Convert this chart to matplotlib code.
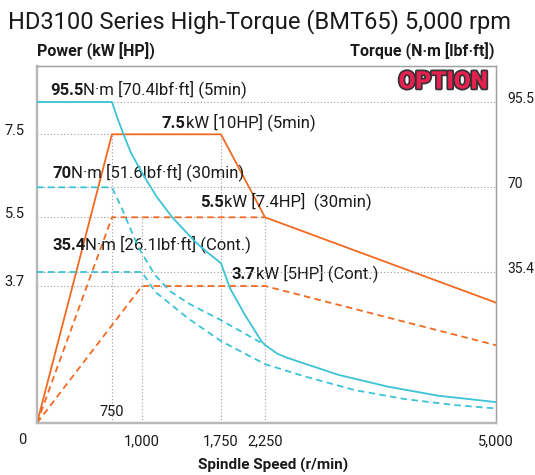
import numpy as np
import matplotlib
matplotlib.use('Agg')
import matplotlib.pyplot as plt
import matplotlib.patheffects as pe
from matplotlib.transforms import ScaledTranslation

plt.rcParams['font.family'] = ['Roboto', 'DejaVu Sans']

# Datos ------------------------------------------------------------
rpm_ticks = [1000, 1750, 2250, 5000]
rpm_labels = ['1,000', '1,750', '2,250', '5,000']
power_ticks = [3.7, 5.5, 7.5]
torque_ticks = [35.4, 70, 95.5]

# Potencia (kW)
p5_rpm = [0, 750, 1750, 2250, 5000]
p5_kw = [0, 7.5, 7.5, 5.5, 3.25]
p30_rpm = [0, 750, 2250]
p30_kw = [0, 5.5, 5.5]
pc_rpm = [0, 1000, 2250, 5000]
pc_kw = [0, 3.7, 3.7, 2.1]

# Torque (N·m)
t5_rpm = [0, 750, 792, 842, 908, 1012, 1142, 1282, 1503, 1627, 1750, 1852, 2023, 2212,
          2250, 2400, 2527, 3123, 3718, 4313, 5000]
t5_nm = [95.5, 95.5, 91.0, 86.2, 80.3, 73.7, 66.0, 58.0, 47.8, 43.2, 39.0, 31.6, 25.3,
         19.1, 18.3, 16.2, 15.2, 11.3, 8.5, 6.4, 4.9]
t30_rpm = [0, 750, 831, 967, 1123, 1266, 1437, 1750, 2250]
t30_nm = [70, 70, 61.5, 45.7, 34.7, 30.9, 28.1, 24.1, 18.3]
tc_rpm = [0, 1000, 1123, 1439, 1750, 2250, 2726, 3321, 3917, 4512, 5000]
tc_nm = [35.4, 35.4, 30.8, 24.5, 19.2, 13.8, 10.9, 7.7, 5.6, 4.2, 3.4]

# Escalas no uniformes del dibujo original (valor -> posicion)
x_knots = ([0, 750, 1000, 1750, 2250, 5000], [0, 75, 105, 184, 228, 459])
p_knots = ([0, 3.7, 5.5, 7.5], [0, 137, 205.7, 288.7])
t_knots = ([0, 35.4, 70, 95.5], [0, 151, 235.7, 321])

orange = '#F26A21'
cyan = '#3CC3D6'
grid_c = '#9a9a9a'
txt_c = '#1a1a1a'


def piecewise(xs, ys):
    xs = np.asarray(xs, float)
    ys = np.asarray(ys, float)

    def f(v):
        v = np.asarray(v, float)
        out = np.interp(v, xs, ys)
        lo = ys[0] + (v - xs[0]) * (ys[1] - ys[0]) / (xs[1] - xs[0])
        hi = ys[-1] + (v - xs[-1]) * (ys[-1] - ys[-2]) / (xs[-1] - xs[-2])
        out = np.where(v < xs[0], lo, out)
        out = np.where(v > xs[-1], hi, out)
        return out
    return f


def scale_funcs(knots):
    return piecewise(knots[0], knots[1]), piecewise(knots[1], knots[0])


fig = plt.figure(figsize=(5.35, 4.75), dpi=100)
ax = fig.add_axes([37 / 535, 52 / 475, 459 / 535, 357 / 475])
ax2 = ax.twinx()

ax.set_xscale('function', functions=scale_funcs(x_knots))
ax.set_yscale('function', functions=scale_funcs(p_knots))
ax2.set_yscale('function', functions=scale_funcs(t_knots))
ax.set_xlim(0, 5000)
ax.set_ylim(0, piecewise(p_knots[1], p_knots[0])(357))
ax2.set_ylim(0, piecewise(t_knots[1], t_knots[0])(357))

# Lineas guia punteadas
dot = dict(color=grid_c, lw=0.8, ls=(0, (1, 2)), zorder=1)
ax.plot([0, 1750], [7.5, 7.5], **dot)
ax.plot([0, 2250], [5.5, 5.5], **dot)
ax.plot([0, 2250], [3.7, 3.7], **dot)
ax.plot([750, 750], [0, 7.5], **dot)
ax.plot([1000, 1000], [0, 5.5], **dot)
ax.plot([1750, 1750], [0, 7.5], **dot)
ax.plot([2250, 2250], [0, 5.5], **dot)
for t in torque_ticks:
    ax2.plot([0, 5000], [t, t], **dot)

dash = (0, (3.6, 2.4))
ax.plot(p5_rpm, p5_kw, color=orange, lw=1.3, zorder=3)
ax.plot(p30_rpm, p30_kw, color=orange, lw=1.3, ls=dash, zorder=3)
ax.plot(pc_rpm, pc_kw, color=orange, lw=1.3, ls=dash, zorder=3)
ax2.plot(t5_rpm, t5_nm, color=cyan, lw=1.3, zorder=3)
ax2.plot(t30_rpm, t30_nm, color=cyan, lw=1.3, ls=dash, zorder=3)
ax2.plot(tc_rpm, tc_nm, color=cyan, lw=1.3, ls=dash, zorder=3)

# Ejes
for a in (ax, ax2):
    for s in ('top', 'right'):
        a.spines[s].set_color('#a0a0a0')
        a.spines[s].set_linewidth(0.9)
    for s in ('left', 'bottom'):
        a.spines[s].set_color('#b8b8b8')
        a.spines[s].set_linewidth(1.6)

ax.set_xticks(rpm_ticks, labels=rpm_labels)
ax.set_yticks(power_ticks, labels=[str(v) for v in power_ticks])
ax2.set_yticks(torque_ticks, labels=[str(v) for v in torque_ticks])
ax.tick_params(axis='x', length=0, pad=8, labelsize=10.5, labelcolor=txt_c)
ax.tick_params(axis='y', length=0, pad=9, labelsize=10.5, labelcolor=txt_c)
ax2.tick_params(axis='y', length=0, pad=8, labelsize=10, labelcolor=txt_c)
ax.minorticks_off()
ax2.minorticks_off()
up = ScaledTranslation(0, 5 / 100, fig.dpi_scale_trans)
for lab in ax.get_yticklabels() + ax2.get_yticklabels():
    lab.set_transform(lab.get_transform() + up)

ax.annotate('0', xy=(0, 0), xytext=(-15, -17), textcoords='offset pixels',
            ha='center', va='center', fontsize=10.5, color=txt_c)
ax.annotate('750', xy=(750, 0), xytext=(0, 11), textcoords='offset pixels',
            ha='center', va='center', fontsize=10.5, color=txt_c)

# Rotulos de las curvas
labels = [
    (0.0283, 0.9188, '95.5', 'N·m [70.4lbf·ft] (5min)'),
    (0.2723, 0.8263, '7.5', 'kW [10HP] (5min)'),
    (0.0327, 0.6863, '70', 'N·m [51.6lbf·ft] (30min)'),
    (0.3551, 0.6050, '5.5', 'kW [7.4HP]  (30min)'),
    (0.0327, 0.4846, '35.4', 'N·m [26.1lbf·ft] (Cont.)'),
    (0.4248, 0.4034, '3.7', 'kW [5HP] (Cont.)'),
]
for x, y, bold, rest in labels:
    t1 = ax.text(x, y, bold, transform=ax.transAxes, fontsize=12, fontweight='bold',
                 va='baseline', color=txt_c, zorder=5)
    ax.annotate(rest, xy=(1, 0), xycoords=t1, va='bottom', fontsize=12,
                color=txt_c, zorder=5)

ax.text(0.9826, 0.955, 'OPTION', transform=ax.transAxes, ha='right', va='center',
        fontsize=17.5, fontweight='heavy', color='#E8204F', zorder=6,
        path_effects=[pe.Stroke(linewidth=2.5, foreground='#333333'), pe.Normal()])

fig.text(8 / 535, 1 - 28 / 475, 'HD3100 Series High-Torque (BMT65) 5,000 rpm',
         fontsize=17, va='baseline', color=txt_c)
fig.text(37 / 535, 1 - 56 / 475, 'Power (kW [HP])', fontsize=11.5, fontweight='bold',
         va='baseline', color=txt_c)
fig.text(495 / 535, 1 - 56 / 475, 'Torque (N·m [lbf·ft])', fontsize=11.5,
         fontweight='bold', ha='right', va='baseline', color=txt_c)
fig.text(273 / 535, 1 - 470 / 475, 'Spindle Speed (r/min)', fontsize=11,
         fontweight='bold', ha='center', va='baseline', color=txt_c)

plt.savefig('out.png', dpi=100)
